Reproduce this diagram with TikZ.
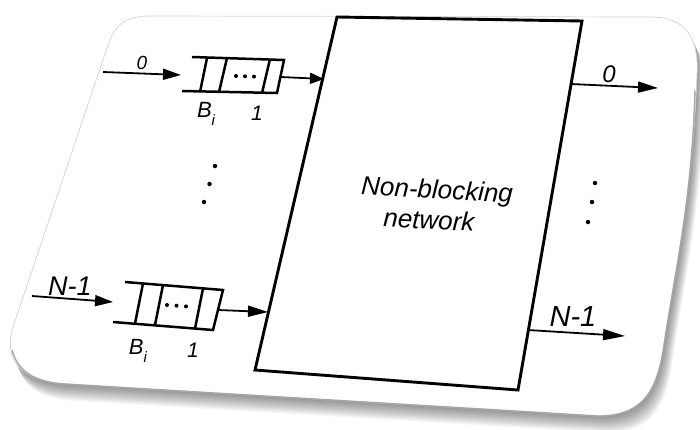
\documentclass[tikz,border=0pt]{standalone}
\usepackage{fontspec}
\setmainfont{Liberation Sans}
\usetikzlibrary{arrows.meta}
\begin{document}
\begin{tikzpicture}[x=1pt,y=-1pt,
  lbl/.style={inner sep=0pt, font=\itshape\fontsize{#1}{#1}\selectfont},
  wire/.style={line width=1.8pt, -{Triangle[length=#1,width=11pt]}},
  wire/.default=18pt,
  qline/.style={line width=2.5pt, line cap=butt},
  netline/.style={line width=2.9pt, line join=miter},
  qdot/.style={circle, fill=black, inner sep=0pt, minimum size=4pt},
  vdot/.style={circle, fill=black, inner sep=0pt, minimum size=4.5pt},
  cardline/.style={draw=gray!35, line width=0.7pt},
  rimline/.style={draw=gray!70, line width=1.4pt}]
\useasboundingbox (0,0) rectangle (700,429);
\fill[white] (0,0) rectangle (700,429);

\def\cardpath{(150,16) -- (650,17) .. controls (688,17) and (699,40) .. (697,75)
  .. controls (692,200) and (676,265) .. (664,345)
  .. controls (657,395) and (640,416) .. (598,416) -- (65,384)
  .. controls (20,381) and (5,360) .. (12,330) -- (108,45)
  .. controls (115,25) and (125,16) .. (150,16) -- cycle}

% shadow
\foreach \i in {1,...,12}{
  \fill[black, opacity=0.04, shift={(0.7*\i,1.4*\i)}] \cardpath;
}
% card
\fill[white] \cardpath;
\draw[cardline] \cardpath;
\draw[rimline] (695,90) .. controls (692,200) and (676,265) .. (664,345)
  .. controls (657,395) and (640,416) .. (598,416) -- (65,384)
  .. controls (35,382) and (18,372) .. (12,350);

% network box
\coordinate (nTL) at (337,17);
\coordinate (nTR) at (582,21);
\coordinate (nBR) at (518,390);
\coordinate (nBL) at (255,370);
\draw[netline] (nTL) -- (nTR) -- (nBR) -- (nBL) -- cycle;
\node[lbl=26, rotate=-3] (net1) at (437,192) {Non-blocking};
\node[lbl=26, rotate=-3] (net2) at (429,220) {network};

% top queue
\coordinate (q0in) at (181,75);
\coordinate (q0out) at (281,77);
\draw[qline] (192,57) -- (284,60) -- (277,93) -- (182,91);
\draw[qline] (207,58) -- (200,92);
\draw[qline] (227,58) -- (219,92);
\draw[qline] (270,59) -- (262,93);
\node[qdot] (q0d1) at (236,76) {};
\node[qdot] (q0d2) at (245,76.3) {};
\node[qdot] (q0d3) at (254,76.6) {};

% bottom queue
\coordinate (q1in) at (113,302);
\coordinate (q1out) at (218,310);
\draw[qline] (125,282) -- (223,290) -- (213,330) -- (113,322);
\draw[qline] (143,283.5) -- (135,323.5);
\draw[qline] (163,285) -- (155,325);
\draw[qline] (203,288.5) -- (195,328.5);
\node[qdot] (q1d1) at (167,305) {};
\node[qdot] (q1d2) at (176.5,305.7) {};
\node[qdot] (q1d3) at (186,306.4) {};

% inputs
\coordinate (in0) at (103,72);
\coordinate (in1) at (32,296);
\draw[wire] (in0) -- (q0in);
\draw[wire] (in1) -- (q1in);
% queue to network
\coordinate (n0in) at (324,79);
\coordinate (n1in) at (268,312);
\draw[wire=14pt] (q0out) -- (n0in);
\draw[wire=20pt] (q1out) -- (n1in);
% outputs
\coordinate (n0out) at (571,84);
\coordinate (out0) at (658,88);
\coordinate (n1out) at (528,330);
\coordinate (out1) at (625,336);
\draw[wire=20pt] (n0out) -- (out0);
\draw[wire=22pt] (n1out) -- (out1);

% labels
\node[lbl=19] (l0in) at (142,63) {0};
\node[lbl=22] (lb0) at (206,114) {B\raisebox{-0.33em}{\fontsize{15}{15}\selectfont i}};
\node[lbl=21] (l10) at (257,113) {1};
\node[lbl=27] (l1in) at (70,286) {N-1};
\node[lbl=22] (lb1) at (138,351) {B\raisebox{-0.33em}{\fontsize{15}{15}\selectfont i}};
\node[lbl=21] (l11) at (193,350) {1};
\node[lbl=24] (l0out) at (609,74) {0};
\node[lbl=29] (l1out) at (573,317) {N-1};

% vertical dots
\node[vdot] (vl1) at (215,166) {};
\node[vdot] (vl2) at (209.5,184) {};
\node[vdot] (vl3) at (204,202) {};
\node[vdot] (vr1) at (595,183) {};
\node[vdot] (vr2) at (592,202) {};
\node[vdot] (vr3) at (588,222) {};
\end{tikzpicture}
\end{document}
